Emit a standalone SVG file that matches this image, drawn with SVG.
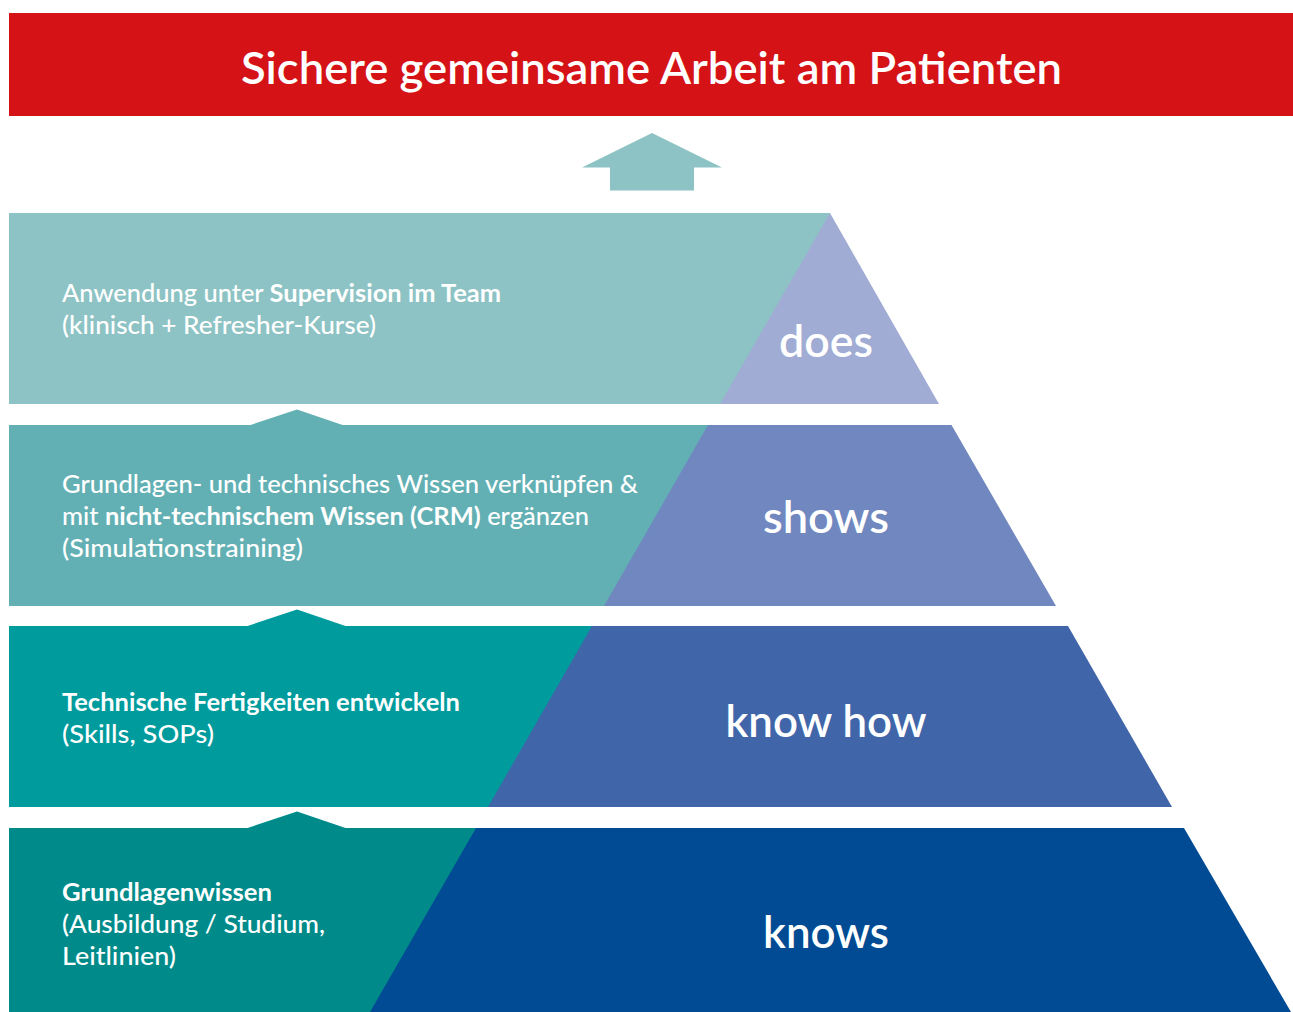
<svg xmlns="http://www.w3.org/2000/svg" width="1293" height="1012" viewBox="0 0 1293 1012">
<style>
text{font-family:Lato,"Open Sans","Liberation Sans",sans-serif;fill:#ffffff}
.t{font-size:25px;font-weight:500}
.b{font-weight:bold}
.lbl{font-size:45px;font-weight:600;text-anchor:middle}
.title{font-size:45px;font-weight:600;text-anchor:middle}
</style>
<rect width="1293" height="1012" fill="#ffffff"/>
<g id="header">
<rect x="9" y="13" width="1284" height="103" fill="#D51317"/>
<text class="title" x="651.5" y="84" textLength="821" lengthAdjust="spacingAndGlyphs">Sichere gemeinsame Arbeit am Patienten</text>
</g>
<g id="connectors">
<polygon points="652,133 582,167.5 610,167.5 610,190.5 694,190.5 694,167.5 722,167.5" fill="#8DC3C4"/>
<polygon points="249,425.5 297,409.5 344,425.5" fill="#62B0B4"/>
<polygon points="246,626.5 297,609.5 347,626.5" fill="#009B9D"/>
<polygon points="246,828.5 297,811.5 347,828.5" fill="#008B8A"/>
</g>
<g id="level-does">
<rect x="9" y="213" width="821" height="191" fill="#8DC3C4"/>
<polygon points="830,213 939,404 720,404" fill="#A0ACD4"/>
<text class="t" x="62" y="302" textLength="439" lengthAdjust="spacingAndGlyphs">Anwendung unter <tspan class="b">Supervision im Team</tspan></text>
<text class="t" x="62" y="334" textLength="314" lengthAdjust="spacingAndGlyphs">(klinisch + Refresher-Kurse)</text>
<text class="lbl" x="826" y="357" textLength="94" lengthAdjust="spacingAndGlyphs">does</text>
</g>
<g id="level-shows">
<rect x="9" y="425" width="821" height="181" fill="#62B0B4"/>
<polygon points="708,425 951.5,425 1056,606 604,606" fill="#7087BF"/>
<text class="t" x="62" y="493" textLength="576" lengthAdjust="spacingAndGlyphs">Grundlagen- und technisches Wissen verknüpfen &amp;</text>
<text class="t" x="62" y="525" textLength="527" lengthAdjust="spacingAndGlyphs">mit <tspan class="b">nicht-technischem Wissen (CRM)</tspan> ergänzen</text>
<text class="t" x="62" y="557" textLength="241" lengthAdjust="spacingAndGlyphs">(Simulationstraining)</text>
<text class="lbl" x="826" y="533" textLength="126" lengthAdjust="spacingAndGlyphs">shows</text>
</g>
<g id="level-knowhow">
<rect x="9" y="626" width="821" height="181" fill="#009B9D"/>
<polygon points="592,626 1068,626 1172,807 488,807" fill="#4065A9"/>
<text class="t b" x="62" y="711" textLength="398" lengthAdjust="spacingAndGlyphs">Technische Fertigkeiten entwickeln</text>
<text class="t" x="62" y="743" textLength="152" lengthAdjust="spacingAndGlyphs">(Skills, SOPs)</text>
<text class="lbl" x="826" y="737" textLength="201" lengthAdjust="spacingAndGlyphs">know how</text>
</g>
<g id="level-knows">
<rect x="9" y="828" width="821" height="184" fill="#008B8A"/>
<polygon points="476,828 1184,828 1291,1012 370,1012" fill="#004B93"/>
<text class="t b" x="62" y="901" textLength="210" lengthAdjust="spacingAndGlyphs">Grundlagenwissen</text>
<text class="t" x="62" y="933" textLength="263" lengthAdjust="spacingAndGlyphs">(Ausbildung / Studium,</text>
<text class="t" x="62" y="965" textLength="114" lengthAdjust="spacingAndGlyphs">Leitlinien)</text>
<text class="lbl" x="826" y="948" textLength="126" lengthAdjust="spacingAndGlyphs">knows</text>
</g>
</svg>
